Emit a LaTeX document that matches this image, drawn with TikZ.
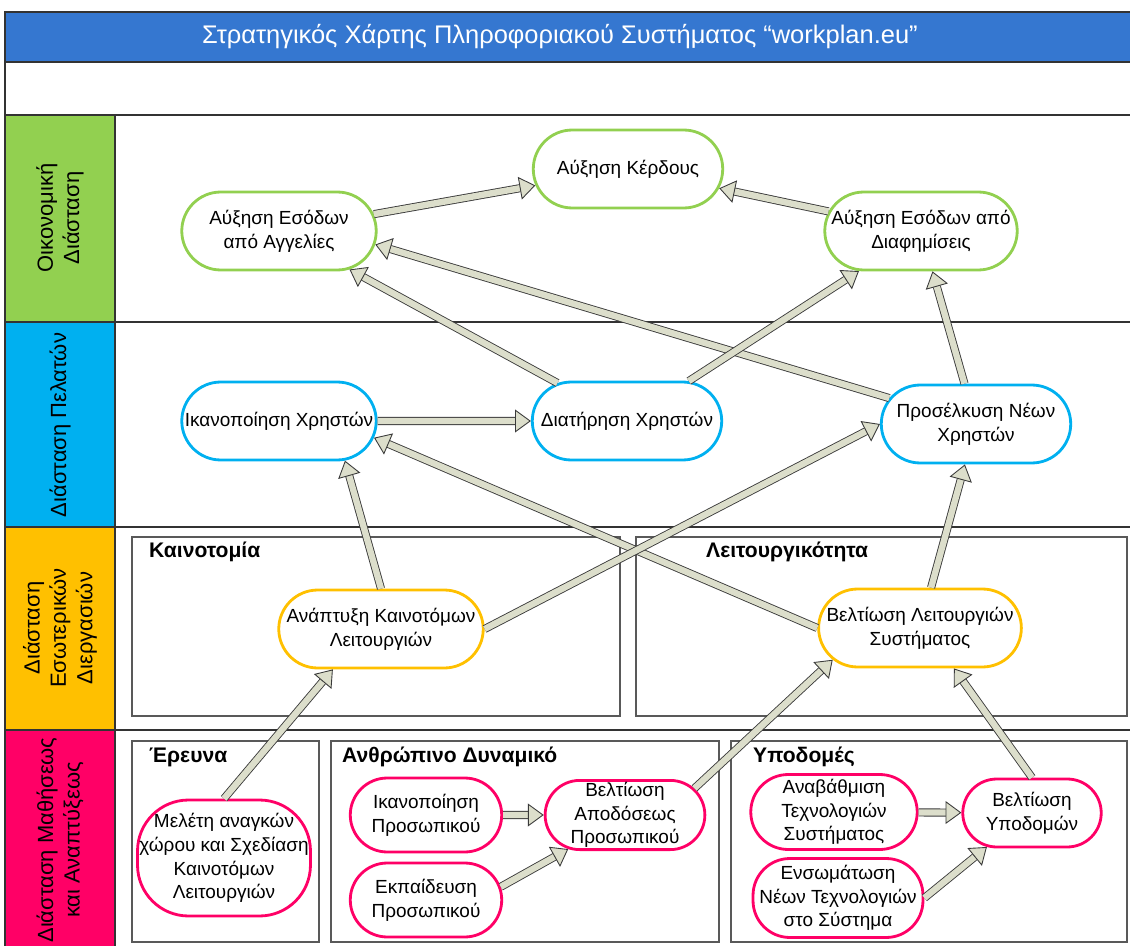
\documentclass[tikz,border=0pt]{standalone}
\usepackage{fontspec}
\setmainfont{Liberation Sans}
\usetikzlibrary{shapes.misc, arrows.meta}
\definecolor{titleblue}{HTML}{3577D0}
\definecolor{econgreen}{HTML}{92D050}
\definecolor{custblue}{HTML}{00B0F0}
\definecolor{procorange}{HTML}{FFC000}
\definecolor{learnpink}{HTML}{FF0066}
\definecolor{arrfill}{HTML}{DCDECB}
\definecolor{arrline}{HTML}{3A3A3A}

\begin{document}
\begin{tikzpicture}[
  x=0.02cm, y=-0.02cm,
  frame/.style={draw=black!80, line width=0.8pt},
  group/.style={draw=black!65, line width=0.8pt},
  grouptitle/.style={anchor=west, font=\bfseries\fontsize{12}{14}\selectfont},
  dimlabel/.style={rotate=90, align=center, font=\fontsize{12.5}{15}\selectfont},
  goal/.style={rounded rectangle, draw, line width=1.6pt, fill=white,
               align=center, inner sep=1pt,
               font=\fontsize{10.8}{13.5}\selectfont},
  econ/.style={goal, draw=econgreen, minimum height=1.56cm},
  cust/.style={goal, draw=custblue, minimum height=1.56cm},
  proc/.style={goal, draw=procorange, minimum height=1.56cm},
  learn/.style={goal, draw=learnpink},
  learnbox/.style={learn, rectangle, inner sep=0pt},
  arr/.style={-{Triangle[length=9pt, width=13pt, fill=arrfill]},
              draw=arrline, double=arrfill, double distance=3.6pt,
              line width=0.5pt},
]
\useasboundingbox (0,0) rectangle (1130,946);

% rows and left column
\fill[titleblue] (5,12) rectangle (1135,62);
\fill[econgreen] (5,115) rectangle (115,322);
\fill[custblue] (5,322) rectangle (115,527);
\fill[procorange] (5,527) rectangle (115,730);
\fill[learnpink] (5,730) rectangle (115,950);
\draw[frame] (5,12) rectangle (1135,950);
\foreach \y in {62,115,322,527,730}
  \draw[frame] (5,\y) -- (1135,\y);
\draw[frame] (115,115) -- (115,950);

\node[text=white, font=\fontsize{14.5}{17}\selectfont] (title) at (560,37)
  {Στρατηγικός Χάρτης Πληροφοριακού Συστήματος “workplan.eu”};

\node[dimlabel] (dimecon) at (60,218) {Οικονομική\\Διάσταση};
\node[dimlabel] (dimcust) at (60,425) {Διάσταση Πελατών};
\node[dimlabel] (dimproc) at (60,628) {Διάσταση\\Εσωτερικών\\Διεργασιών};
\node[dimlabel] (dimlearn) at (60,840) {Διάσταση Μαθήσεως\\και Αναπτύξεως};

% groups
\draw[group] (132,537) rectangle (620,716);
\draw[group] (636,537) rectangle (1127,716);
\draw[group] (132,741) rectangle (319,942);
\draw[group] (331,741) rectangle (719,942);
\draw[group] (731,741) rectangle (1127,942);
\node[grouptitle] (gkain) at (143,552) {Καινοτομία};
\node[grouptitle] (gleit) at (700,552) {Λειτουργικότητα};
\node[grouptitle] (gerev) at (143,757) {Έρευνα};
\node[grouptitle] (gadyn) at (336,757) {Ανθρώπινο Δυναμικό};
\node[grouptitle] (gypod) at (747,757) {Υποδομές};

% goals
\node[econ, minimum width=3.86cm] (kerdos) at (628,169) {Αύξηση Κέρδους};
\node[econ, minimum width=3.96cm] (aggelies) at (279,231) {Αύξηση Εσόδων\\από Αγγελίες};
\node[econ, minimum width=3.92cm] (diafim) at (921,231) {Αύξηση Εσόδων από\\Διαφημίσεις};
\node[cust, minimum width=3.96cm] (ikanxr) at (279,421) {Ικανοποίηση Χρηστών};
\node[cust, minimum width=3.86cm] (diatxr) at (627,421) {Διατήρηση Χρηστών};
\node[cust, minimum width=3.86cm] (proselk) at (976,424) {Προσέλκυση Νέων\\Χρηστών};
\node[proc, minimum width=3.86cm] (anaptyxi) at (381,629) {Ανάπτυξη Καινοτόμων\\Λειτουργιών};
\node[proc, minimum width=3.9cm] (beltleit) at (920,628) {Βελτίωση Λειτουργιών\\Συστήματος};
\node[learnbox, minimum width=3.46cm, minimum height=2.32cm, rounded corners=29pt] (meleti) at (224,858)
  {Μελέτη αναγκών\\χώρου και Σχεδίαση\\Καινοτόμων\\Λειτουργιών};
\node[learn, minimum width=3.1cm, minimum height=1.48cm] (ikanpros) at (426,815) {Ικανοποίηση\\Προσωπικού};
\node[learn, minimum width=3.1cm, minimum height=1.48cm] (ekpaid) at (426,900) {Εκπαίδευση\\Προσωπικού};
\node[learn, minimum width=3.1cm, minimum height=1.38cm] (beltapod) at (625,815) {Βελτίωση\\Αποδόσεως\\Προσωπικού};
\node[learn, minimum width=3.4cm, minimum height=1.5cm] (anabath) at (834,812) {Αναβάθμιση\\Τεχνολογιών\\Συστήματος};
\node[learnbox, minimum width=3.4cm, minimum height=1.58cm, rounded corners=21pt] (ensom) at (838,898) {Ενσωμάτωση\\Νέων Τεχνολογιών\\στο Σύστημα};
\node[learn, minimum width=2.84cm, minimum height=1.36cm] (beltypod) at (1032,813) {Βελτίωση\\Υποδομών};

% links
\draw[arr] (aggelies) -- (kerdos);
\draw[arr] (diafim) -- (kerdos);
\draw[arr] (proselk) -- (aggelies.-8);
\draw[arr] (diatxr) -- (aggelies);
\draw[arr] (diatxr) -- (diafim);
\draw[arr] (proselk) -- (diafim);
\draw[arr] (ikanxr) -- (diatxr);
\draw[arr] (anaptyxi.north) -- (ikanxr.-31);
\draw[arr] (beltleit.west) -- (ikanxr.-10);
\draw[arr] (anaptyxi.east) -- (proselk.west);
\draw[arr] (beltleit) -- (proselk);
\draw[arr] (meleti.north) -- (anaptyxi.220);
\draw[arr] (beltapod.21) -- (beltleit.200);
\draw[arr] (beltypod.north) -- (beltleit.-50);
\draw[arr] (ikanpros) -- (beltapod);
\draw[arr] (ekpaid.10) -- (beltapod.211);
\draw[arr] (anabath) -- (beltypod);
\draw[arr] (ensom.east) -- (beltypod.217);
\end{tikzpicture}
\end{document}
